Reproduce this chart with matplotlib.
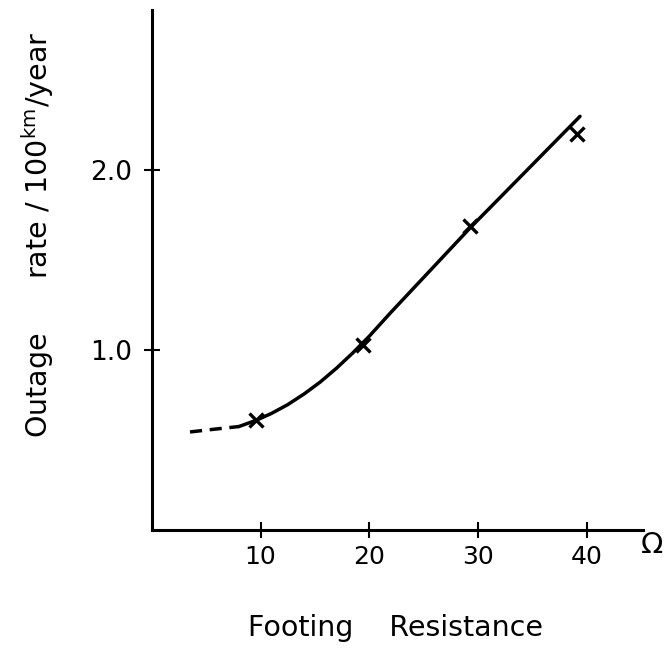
import matplotlib
matplotlib.use("Agg")
import matplotlib.pyplot as plt

# Measured points (x marks)
meas_x = [9.6, 19.4, 29.3, 39.1]
meas_y = [0.61, 1.03, 1.69, 2.20]

# Fitted curve
curve_x = [8.0, 9.6, 11.0, 12.5, 14.0, 15.5, 17.0, 18.5, 20.0, 22.0, 29.3, 39.4]
curve_y = [0.575, 0.610, 0.648, 0.697, 0.756, 0.823, 0.900, 0.985, 1.077, 1.210, 1.680, 2.299]

# Dashed extrapolation
dash_x = [3.5, 5.7, 8.0]
dash_y = [0.545, 0.560, 0.575]

xticks = [10, 20, 30, 40]
xticklabels = ["10", "20", "30", "40"]
yticks = [1.0, 2.0]
yticklabels = ["1.0", "2.0"]

plt.rcParams['font.family'] = ['DejaVu Sans']
fig = plt.figure(figsize=(6.68, 6.5), dpi=100)
ax = fig.add_axes([0.2275, 0.1846, 0.9626 - 0.2275, 0.9846 - 0.1846])

ax.plot(curve_x, curve_y, color='black', lw=2.5, solid_capstyle='round',
        solid_joinstyle='round')
ax.plot(dash_x, dash_y, color='black', lw=2.5, linestyle=(0, (3.5, 2.2)))
ax.plot(meas_x, meas_y, linestyle='none', marker='x', color='black',
        markersize=10, markeredgewidth=2.4)

ax.set_xlim(0, 45.2)
ax.set_ylim(0, 2.89)

for s in ['top', 'right']:
    ax.spines[s].set_visible(False)
for s in ['left', 'bottom']:
    ax.spines[s].set_linewidth(2.2)

ax.set_xticks(xticks)
ax.set_xticklabels(xticklabels, fontsize=18)
ax.set_yticks(yticks)
ax.set_yticklabels(yticklabels, fontsize=19)
ax.tick_params(axis='x', direction='inout', length=11, width=1.5, pad=5)
ax.tick_params(axis='y', direction='inout', length=11, width=1.5, pad=9)

fig.text(395 / 668, 1 - 628 / 650, "Footing    Resistance", fontsize=20.5,
         ha='center', va='center')
fig.text(38 / 668, 1 - 235 / 650,
         r"Outage      rate / 100$^{\mathrm{km}}$/year", fontsize=20.5,
         rotation=90, ha='center', va='center')

fig.text(652 / 668, 1 - 545 / 650, "\u03a9", fontsize=21, ha='center', va='center')

fig.savefig("out.png", dpi=100)
